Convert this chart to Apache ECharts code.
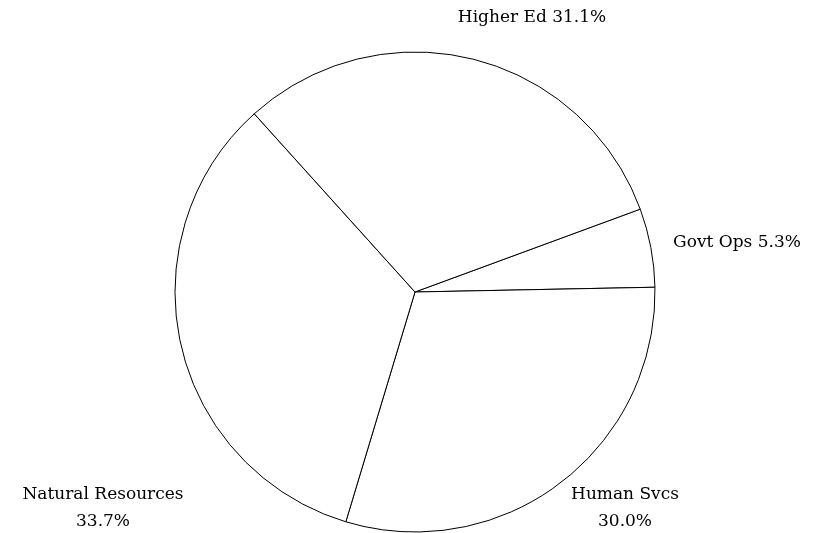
<!DOCTYPE html>
<html><head><meta charset="utf-8">
<script src="https://cdn.jsdelivr.net/npm/echarts@6/dist/echarts.min.js"></script>
<style>html,body{margin:0;padding:0;background:#fff}#c{width:823px;height:533px}</style>
</head><body><div id="c"></div>
<script>
var categories = ['Govt Ops', 'Human Svcs', 'Natural Resources', 'Higher Ed'];
var values = [5.3, 30.0, 33.7, 31.1];
var twoLine = ['Human Svcs', 'Natural Resources'];
var labelPos = {
  'Govt Ops': [737, 243],
  'Human Svcs': [625, 508],
  'Natural Resources': [103, 508],
  'Higher Ed': [532, 18]
};
var chart = echarts.init(document.getElementById('c'));
chart.setOption({
  animation: false,
  backgroundColor: '#fff',
  series: [{
    type: 'pie',
    center: [415, 292],
    radius: [0, 240],
    startAngle: 20.2,
    clockwise: true,
    silent: true,
    itemStyle: { color: '#fff', borderColor: '#000', borderWidth: 1 },
    label: {
      show: true,
      position: 'outside',
      fontFamily: 'DejaVu Serif',
      fontSize: 17,
      color: '#000',
      lineHeight: 27,
      align: 'center',
      overflow: 'none',
      formatter: function (p) {
        var sep = twoLine.indexOf(p.name) >= 0 ? '\n' : ' ';
        return p.name + sep + p.value.toFixed(1) + '%';
      }
    },
    labelLine: { show: false },
    labelLayout: function (params) {
      var name = categories[params.dataIndex];
      var pos = labelPos[name];
      return { x: pos[0], y: pos[1], align: 'center', verticalAlign: 'middle' };
    },
    data: categories.map(function (c, i) { return { name: c, value: values[i] }; })
  }]
});
</script></body></html>
